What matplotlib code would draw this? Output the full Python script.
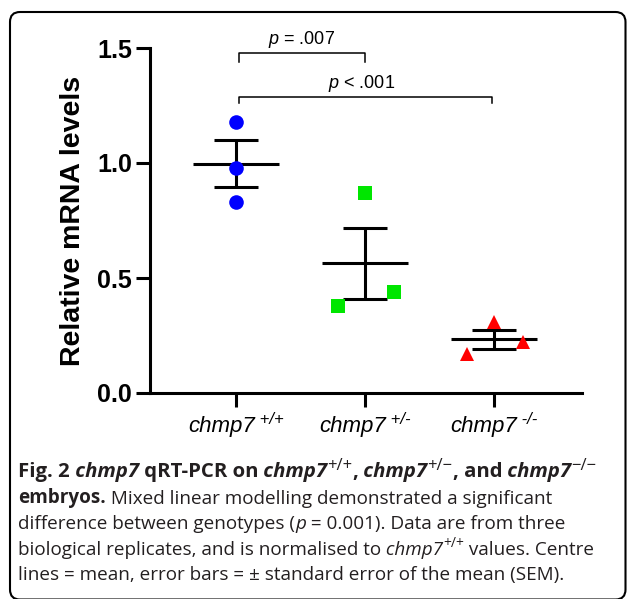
import matplotlib
matplotlib.use('Agg')
import matplotlib.pyplot as plt
import numpy as np
from matplotlib.patches import FancyBboxPatch

plt.rcParams['font.family'] = 'Liberation Sans'
plt.rcParams['mathtext.fontset'] = 'custom'
plt.rcParams['mathtext.it'] = 'Liberation Sans:italic'
plt.rcParams['mathtext.rm'] = 'Liberation Sans'

# data
genotypes = ['+/+', '+/-', '-/-']
wt_vals = [1.18, 0.98, 0.83]
het_vals = [0.38, 0.87, 0.44]
ko_vals = [0.17, 0.31, 0.22]
groups = [wt_vals, het_vals, ko_vals]
p_labels = ['= .007', '< .001']

# layout / style
jitter = [[0.0, 0.0, 0.0], [-0.21, 0.0, 0.22], [-0.21, 0.0, 0.22]]
markers = ['o', 's', '^']
colors = ['#0000ff', '#00e600', '#ff0000']
msizes = [10.5, 10, 9.8]
LW = 2.2

fig = plt.figure(figsize=(6.27, 5.99), dpi=100)
ax = fig.add_axes([150 / 627, 1 - 393 / 599, 432 / 627, 345 / 599])

x = np.arange(len(groups))
means = np.array([np.mean(g) for g in groups])
sems = np.array([np.std(g, ddof=1) / np.sqrt(len(g)) for g in groups])

# centre lines and error bars
ax.hlines(means, x - 0.333, x + 0.333, color='black', lw=LW, zorder=2)
ax.errorbar(x, means, yerr=sems, fmt='none', ecolor='black', elinewidth=LW,
            capsize=15.5, capthick=LW, zorder=2)

# individual points
for i, g in enumerate(groups):
    ax.plot(i + np.array(jitter[i]), g, linestyle='none', marker=markers[i],
            color=colors[i], markersize=msizes[i], markeredgewidth=0, zorder=3)

ax.set_xlim(-0.667, 2.68)
ax.set_ylim(0, 1.5)
ax.set_yticks([0, 0.5, 1.0, 1.5])
ax.set_yticklabels(['%.1f' % v for v in [0, 0.5, 1.0, 1.5]])
ax.set_xticks(x)
ax.set_xticklabels([])
for s in ['top', 'right']:
    ax.spines[s].set_visible(False)
for s in ['left', 'bottom']:
    ax.spines[s].set_linewidth(LW)
ax.tick_params(length=10, width=LW, labelsize=18, pad=3)
for lab in ax.get_yticklabels():
    lab.set_fontweight('bold')
ax.set_ylabel('Relative mRNA levels', fontsize=20.5, fontweight='bold', labelpad=8)

# significance brackets
brackets = [(0.02, 1.0, 1.48, 1.441), (0.02, 1.98, 1.288, 1.259)]
text_pos = [(0.51, 1.517), (0.97, 1.326)]
for (x0, x1, yt, yb), (tx, ty), lab in zip(brackets, text_pos, p_labels):
    ax.plot([x0, x0, x1, x1], [yb, yt, yt, yb], color='black', lw=1.1,
            clip_on=False)
    ax.text(tx, ty, r'$\mathit{p}$ ' + lab, ha='center', va='baseline',
            fontsize=13, clip_on=False)

# x tick labels with superscripts
firsts, sups = [], []
for i, g in enumerate(genotypes):
    t1 = ax.annotate('chmp7', xy=(i, 0), xycoords=('data', 'axes fraction'),
                     xytext=(0, -28), textcoords='offset points',
                     ha='left', va='baseline', fontsize=16, style='italic')
    t2 = ax.annotate(' ' + g, xy=(1, 0), xycoords=t1, xytext=(0, 7),
                     textcoords='offset points', ha='left', va='bottom',
                     fontsize=12, style='italic')
    firsts.append(t1)
    sups.append(t2)

# caption
cap = fig.add_axes([0, 0, 1, 1])
cap.set_xlim(0, 627)
cap.set_ylim(599, 0)
cap.axis('off')
cap.patch.set_visible(False)

cap.add_patch(FancyBboxPatch((10, 12), 615.5, 587.5,
                             boxstyle='round,pad=0,rounding_size=10',
                             fill=False, ec='black', lw=1.5))

cfam = ['Open Sans', 'DejaVu Sans']
ccol = '#231f20'


def rich_line(x0, y0, parts, size=13.6, sup_size=10):
    # parts: (text, style, weight, superscript)
    s, st, wt, sup = parts[0]
    first = cap.text(x0, y0, s, family=cfam, fontsize=size, style=st,
                     weight=wt, color=ccol, va='baseline')
    prev = anchor = first
    for s, st, wt, sup in parts[1:]:
        if sup:
            t = cap.annotate(s, xy=(1, 0), xycoords=(prev, anchor),
                             xytext=(0, 5.5), textcoords='offset points',
                             family=cfam, fontsize=sup_size, style=st,
                             weight=wt, color=ccol, va='bottom')
        else:
            t = cap.annotate(s, xy=(1, 0), xycoords=(prev, anchor),
                             family=cfam, fontsize=size, style=st, weight=wt,
                             color=ccol, va='bottom')
        prev = t


N, I, B = 'normal', 'italic', 'bold'
rich_line(18, 477, [('Fig. 2', N, B, False), (' chmp7', I, B, False),
                    (' qRT-PCR on', N, B, False), (' chmp7', I, B, False),
                    ('+/+', N, N, True), (',', N, B, False),
                    (' chmp7', I, B, False), ('+/\u2212', N, N, True),
                    (', and', N, B, False), (' chmp7', I, B, False),
                    ('\u2212/\u2212', N, N, True)], size=14.7, sup_size=12)
rich_line(18, 503, [('embryos.', N, B, False),
                    (' Mixed linear modelling demonstrated a significant', N, N, False)])
rich_line(18, 529, [('difference between genotypes (', N, N, False),
                    ('p', I, N, False),
                    (' = 0.001). Data are from three', N, N, False)])
rich_line(18, 555, [('biological replicates, and is normalised to', N, N, False),
                    (' chmp7', I, N, False), ('+/+', N, N, True),
                    (' values. Centre', N, N, False)])
rich_line(18, 580, [('lines = mean, error bars = \u00b1 standard error of the mean (SEM).',
                     N, N, False)])

# centre the composite tick labels on their ticks
fig.canvas.draw()
r = fig.canvas.get_renderer()
for i, (t1, t2) in enumerate(zip(firsts, sups)):
    e1 = t1.get_window_extent(r)
    e2 = t2.get_window_extent(r)
    width = e2.x1 - e1.x0
    tick_px = ax.transData.transform((i, 0))[0]
    shift = (tick_px - width / 2) - e1.x0
    t1.xyann = (shift * 72 / fig.dpi, -28)

fig.savefig('out.png', dpi=100)
